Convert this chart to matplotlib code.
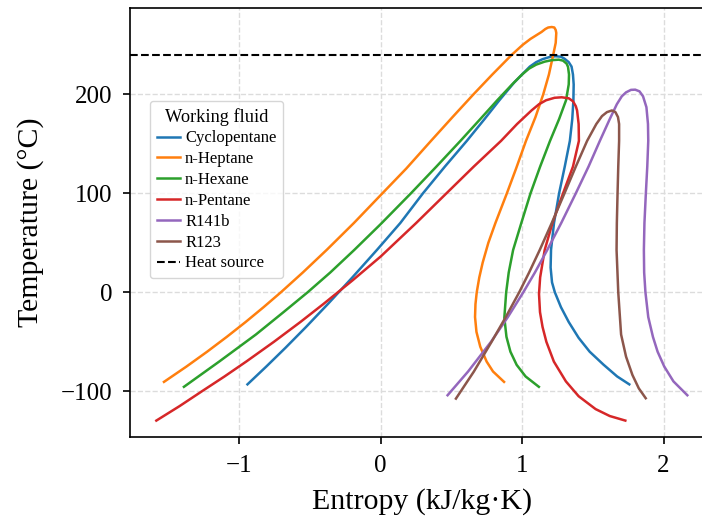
import matplotlib
matplotlib.use("Agg")
import matplotlib.pyplot as plt

plt.rcParams.update({
    'font.family': 'serif',
    'font.serif': ['Liberation Serif', 'DejaVu Serif'],
    'axes.linewidth': 1.2,
})

# Saturation domes, liquid branch -> critical point -> vapour branch
s_cyclopentane = [-0.94, -0.807, -0.671, -0.526, -0.373, -0.199, -0.024, 0.14, 0.30, 0.455, 0.61,
                  0.735, 0.84, 0.945, 1.055, 1.10, 1.145, 1.19, 1.235, 1.275, 1.30, 1.33, 1.35,
                  1.36, 1.365, 1.363, 1.355, 1.338, 1.302, 1.262, 1.226, 1.205, 1.202, 1.212,
                  1.232, 1.275, 1.33, 1.40, 1.478, 1.575, 1.672, 1.758]
T_cyclopentane = [-93, -75, -56, -35, -12, 15, 43, 70, 100, 127, 153,
                  175, 194, 212, 228, 232.5, 235.5, 237.5, 238.5, 238, 236, 232.5, 228,
                  220, 210, 194, 175, 153, 127, 100, 70, 43, 25, 10,
                  0, -15, -30, -46, -60, -73, -85, -93]

s_heptane = [-1.53, -1.371, -1.225, -1.086, -0.953, -0.826, -0.704, -0.549, -0.379, -0.188, 0.0,
             0.182, 0.357, 0.509, 0.657, 0.79, 0.928, 1.005, 1.06, 1.138, 1.165, 1.185, 1.21,
             1.228, 1.238, 1.242, 1.238, 1.222, 1.19, 1.15, 1.095, 1.028, 0.958, 0.893, 0.812,
             0.762, 0.722, 0.698, 0.680, 0.671, 0.668, 0.678, 0.705, 0.75, 0.795, 0.873]
T_heptane = [-90.5, -75, -60, -45, -30, -15, 0, 20, 43, 70, 98,
             125, 153, 177, 200, 220, 240, 250, 256, 263, 266, 267.5, 268,
             267.5, 265, 262, 252, 241, 220, 200, 177, 153, 125, 100, 70,
             50, 30, 15, 0, -12, -25, -40, -55, -70, -80, -90.5]

s_hexane = [-1.389, -1.14, -0.88, -0.685, -0.515, -0.355, -0.186, 0.0, 0.215, 0.395, 0.565,
            0.705, 0.825, 0.93, 1.0, 1.05, 1.10, 1.16, 1.21, 1.26, 1.29, 1.315, 1.325, 1.332,
            1.33, 1.311, 1.262, 1.198, 1.128, 1.06, 0.995, 0.937, 0.906, 0.888, 0.875, 0.89,
            0.918, 0.962, 1.025, 1.119]
T_hexane = [-95.5, -70, -42.6, -20, 0, 20, 42.7, 68.7, 100, 127, 153,
            175, 194, 210, 220, 226, 230, 233, 234.5, 235, 234, 231, 227.7, 220,
            210, 194, 175, 153, 127, 100, 70, 42.7, 20, 0, -25.6, -45,
            -60, -73.3, -85, -95.5]

s_pentane = [-1.584, -1.42, -1.262, -1.102, -0.949, -0.753, -0.566, -0.405, -0.198, 0.0, 0.252,
             0.466, 0.659, 0.852, 0.965, 1.067, 1.12, 1.17, 1.23, 1.28, 1.33, 1.36, 1.38,
             1.389, 1.40, 1.402, 1.36, 1.29, 1.215, 1.16, 1.128, 1.12, 1.127, 1.145, 1.172,
             1.225, 1.31, 1.40, 1.52, 1.62, 1.73]
T_pentane = [-129.6, -115, -100, -85, -70, -50, -30, -12, 12, 36, 70,
             100, 127, 153, 170, 183.7, 190, 194, 196.5, 197, 196, 193, 188,
             183.7, 170, 153, 127, 100, 70, 42.7, 15, -1.6, -20, -35, -50,
             -70, -90, -105, -118, -125, -129.6]

s_r141b = [0.474, 0.619, 0.781, 0.90, 1.009, 1.091, 1.178, 1.277, 1.38, 1.47, 1.55, 1.62,
           1.67, 1.705, 1.735, 1.77, 1.80, 1.83, 1.855, 1.879, 1.89, 1.892, 1.885, 1.875,
           1.865, 1.861, 1.863, 1.872, 1.892, 1.925, 1.958, 2.005, 2.07, 2.168]
T_r141b = [-104, -80, -50, -25, 0, 20, 42.7, 70, 100, 127, 153, 175,
           190, 198, 202, 204.5, 204.7, 203, 198, 187, 170, 153, 127, 100,
           70, 42.7, 20, 0, -25, -45, -60, -75, -90, -104]

s_r123 = [0.533, 0.66, 0.785, 0.885, 0.98, 1.05, 1.125, 1.21, 1.30, 1.38, 1.46, 1.525,
          1.565, 1.60, 1.635, 1.66, 1.678, 1.686, 1.686, 1.68, 1.675, 1.67, 1.668, 1.68,
          1.70, 1.735, 1.78, 1.825, 1.874]
T_r123 = [-107.4, -80, -50, -25, 0, 20, 42.7, 70, 100, 127, 153, 170,
          178, 182, 183.7, 182, 177, 170, 153, 127, 100, 70, 42.7, 0,
          -42.6, -65, -83.5, -97, -107]

fluids = ['Cyclopentane', 'n-Heptane', 'n-Hexane', 'n-Pentane', 'R141b', 'R123']
curves = [(s_cyclopentane, T_cyclopentane), (s_heptane, T_heptane), (s_hexane, T_hexane),
          (s_pentane, T_pentane), (s_r141b, T_r141b), (s_r123, T_r123)]
heat_source_T = 240

fig = plt.figure(figsize=(7.02, 5.23), dpi=100)
ax = fig.add_axes([0.1856, 0.1644, 0.8322, 0.8203])

for name, (s, T) in zip(fluids, curves):
    ax.plot(s, T, linewidth=1.8, label=name)

ax.axhline(heat_source_T, color='black', linestyle='--', linewidth=1.5, label='Heat source')

ax.set_xlim(-1.768, 2.36)
ax.set_ylim(-146.2, 287.2)
ax.set_xticks([-1, 0, 1, 2])
ax.set_yticks([-100, 0, 100, 200])
ax.grid(True, linestyle='--', color='#dcdcdc', linewidth=1.0)
ax.set_axisbelow(True)
ax.tick_params(labelsize=18, length=5, width=1.2, pad=8)

ax.set_xlabel('Entropy (kJ/kg·K)', fontsize=21.5, labelpad=8)
ax.set_ylabel('Temperature (°C)', fontsize=21.5, labelpad=12)

ax.legend(title='Working fluid', loc='upper left', bbox_to_anchor=(0.034, 0.783),
          borderaxespad=0, fontsize=12.0, title_fontsize=13.2, handlelength=1.4,
          handletextpad=0.3, borderpad=0.4, labelspacing=0.29)

fig.savefig('out.png', dpi=100)
